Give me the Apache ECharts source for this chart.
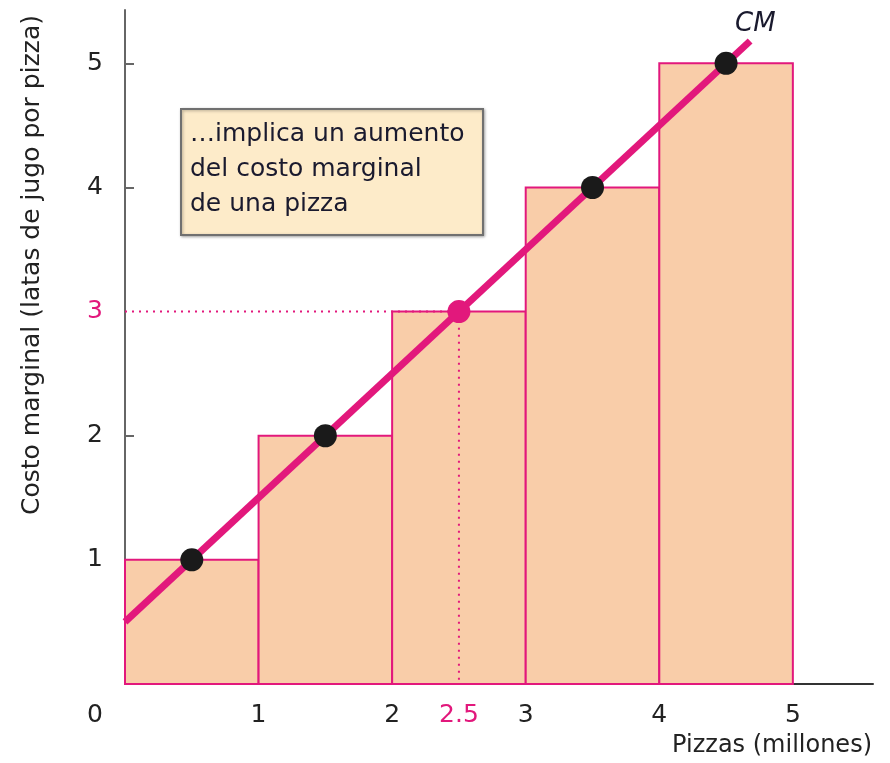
<!DOCTYPE html>
<html><head><meta charset="utf-8">
<script src="https://cdn.jsdelivr.net/npm/echarts@6/dist/echarts.min.js"></script>
<style>html,body{margin:0;padding:0;background:#fff}#c{width:890px;height:763px}</style>
</head><body><div id="c"></div>
<script>
// Data
const barStart = [0, 1, 2, 3, 4];
const barEnd = [1, 2, 3, 4, 5];
const barHeight = [1, 2, 3, 4, 5];
const dotX = [0.5, 1.5, 2.5, 3.5, 4.5];
const dotY = [1, 2, 3, 4, 5];
const cmLineX = [0, 4.68];
const cmLineY = [0.5, 5.18];
const guideX = [0, 2.5, 2.5];
const guideY = [3, 3, 0];
const xTicks = [0, 1, 2, 2.5, 3, 4, 5];
const yTicks = [1, 2, 3, 4, 5];
const yTickMarks = [1, 2, 4, 5];
const highlightX = 2.5, highlightY = 3;

const PINK = '#E2187C';
const FONT = 'DejaVu Sans';
const FS = 25;
const chart = echarts.init(document.getElementById('c'));

const bars = barStart.map((s, i) => [s, barEnd[i], barHeight[i]]);
const dots = dotX.map((x, i) => ({
  value: [x, dotY[i]],
  itemStyle: { color: x === highlightX ? PINK : '#1a1a1a', opacity: 1 }
}));

chart.setOption({
  animation: false,
  grid: { left: 125, right: 17, top: 10, bottom: 79, containLabel: false },
  xAxis: {
    type: 'value', min: 0, max: 5.6,
    axisLine: { lineStyle: { color: '#333', width: 2 } },
    axisTick: { show: false },
    splitLine: { show: false },
    axisLabel: {
      customValues: xTicks,
      margin: 19,
      fontSize: FS, fontFamily: FONT,
      color: '#222',
      formatter: v => Number(v) === 0 ? '{z|0}' : (Number(v) === highlightX ? '{h|' + v + '}' : String(v)),
      rich: {
        z: { fontSize: FS, fontFamily: FONT, color: '#222', padding: [0, 60, 0, 0] },
        h: { fontSize: FS, fontFamily: FONT, color: PINK }
      }
    }
  },
  yAxis: {
    type: 'value', min: 0, max: 5.43,
    axisLine: { show: true, lineStyle: { color: '#666', width: 2 } },
    axisTick: { show: true, inside: true, length: 9, customValues: yTickMarks, lineStyle: { color: '#666', width: 2 } },
    splitLine: { show: false },
    axisLabel: {
      customValues: yTicks,
      margin: 22,
      fontSize: FS, fontFamily: FONT,
      color: '#222',
      formatter: v => Number(v) === highlightY ? '{h|' + v + '}' : String(v),
      rich: { h: { fontSize: FS, fontFamily: FONT, color: PINK } }
    }
  },
  series: [
    {
      type: 'custom', z: 1,
      data: bars,
      renderItem: (params, api) => {
        const p0 = api.coord([api.value(0), 0]);
        const p1 = api.coord([api.value(1), api.value(2)]);
        return {
          type: 'rect',
          shape: { x: p0[0], y: p1[1], width: p1[0] - p0[0], height: p0[1] - p1[1] },
          style: { fill: '#F9CDA9', stroke: PINK, lineWidth: 2 }
        };
      }
    },
    {
      type: 'line', z: 2, symbol: 'none',
      data: guideX.map((x, i) => [x, guideY[i]]),
      lineStyle: { color: PINK, width: 2, type: [2, 5] }
    },
    {
      type: 'line', z: 3, symbol: 'none',
      data: cmLineX.map((x, i) => [x, cmLineY[i]]),
      lineStyle: { color: PINK, width: 7, cap: 'butt' }
    },
    {
      type: 'scatter', z: 4, symbolSize: 23,
      itemStyle: { opacity: 1 },
      data: dots
    }
  ],
  graphic: [
    {
      type: 'text', left: 735, top: 11,
      style: { text: 'CM', font: 'italic 26px ' + FONT, fill: '#1a1a2e' }
    },
    {
      type: 'text', x: 872, y: 734,
      style: { text: 'Pizzas (millones)', font: '24px ' + FONT, fill: '#222', align: 'right', verticalAlign: 'top' }
    },
    {
      type: 'text', x: 20, y: 265, rotation: Math.PI / 2,
      style: { text: 'Costo marginal (latas de jugo por pizza)', font: '25px ' + FONT, fill: '#222', align: 'center', verticalAlign: 'top' }
    },
    {
      type: 'group', left: 180, top: 108,
      children: [
        { type: 'rect', shape: { x: 0, y: 0, width: 302, height: 126 },
          style: { fill: '#FDEBC9', stroke: '#707070', lineWidth: 2, shadowBlur: 3, shadowColor: 'rgba(0,0,0,0.3)', shadowOffsetX: 1, shadowOffsetY: 1 } },
        { type: 'text', x: 9, y: 8,
          style: { text: '…implica un aumento\ndel costo marginal\nde una pizza', font: '25px ' + FONT, lineHeight: 35, fill: '#1a1a2e' } }
      ]
    }
  ]
});
</script></body></html>
